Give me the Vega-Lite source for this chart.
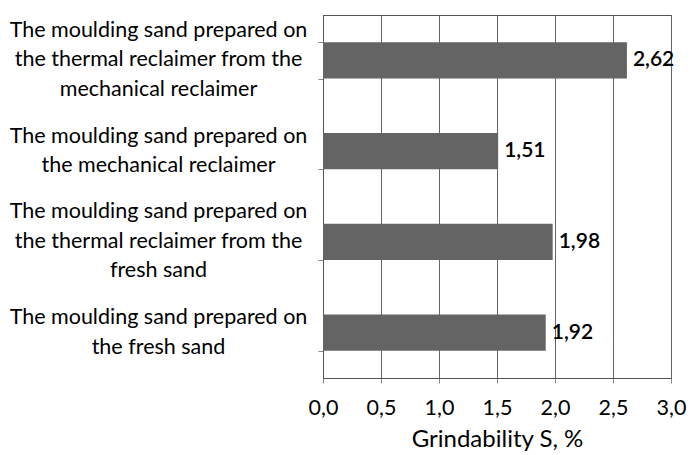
{
  "$schema": "https://vega.github.io/schema/vega-lite/v6.json",
  "autosize": "none",
  "width": 348,
  "height": 363,
  "padding": {"left": 323, "top": 15, "right": 27, "bottom": 77},
  "background": "white",
  "data": {
    "values": [
      {"category": "The moulding sand prepared on|the thermal reclaimer from the|mechanical reclaimer", "value": 2.62},
      {"category": "The moulding sand prepared on|the mechanical reclaimer", "value": 1.51},
      {"category": "The moulding sand prepared on|the thermal reclaimer from the|fresh sand", "value": 1.98},
      {"category": "The moulding sand prepared on|the fresh sand", "value": 1.92}
    ]
  },
  "encoding": {
    "y": {
      "field": "category",
      "type": "nominal",
      "sort": null,
      "scale": {"paddingInner": 0.6, "paddingOuter": 0.3},
      "axis": {
        "title": null,
        "tickBand": "extent",
        "labelExpr": "split(datum.label, '|')",
        "labelAlign": "center",
        "labelBaseline": "middle",
        "labelOffset": {"condition": {"test": "length(split(datum.label, '|')) == 3", "value": -30}, "value": -15},
        "labelPadding": 160,
        "labelLimit": 400,
        "labelFont": "Lato",
        "labelFontSize": 21.5,
        "labelColor": "#000000",
        "labelLineHeight": 29.5,
        "tickColor": "#888888",
        "tickSize": 5,
        "domainColor": "#555555",
        "grid": false
      }
    }
  },
  "layer": [
    {
      "mark": {"type": "bar", "color": "#646464"},
      "encoding": {
        "x": {
          "field": "value",
          "type": "quantitative",
          "scale": {"domain": [0, 3]},
          "axis": {
            "title": "Grindability S, %",
            "titleFont": "Lato",
            "titleFontSize": 24,
            "titleFontWeight": "normal",
            "titleColor": "#000000",
            "titlePadding": 9,
            "values": [0, 0.5, 1, 1.5, 2, 2.5, 3],
            "format": ".1f",
            "labelFlush": false,
            "labelOverlap": false,
            "labelFont": "Lato",
            "labelFontSize": 21.5,
            "labelColor": "#000000",
            "labelPadding": 14,
            "tickColor": "#888888",
            "tickSize": 5,
            "domainColor": "#555555",
            "grid": true,
            "gridColor": "#666666",
            "gridWidth": 1
          }
        }
      }
    },
    {
      "mark": {"type": "text", "align": "left", "baseline": "middle", "dx": 6, "font": "Lato", "fontSize": 21, "fontWeight": 600, "color": "#000000"},
      "encoding": {
        "x": {"field": "value", "type": "quantitative"},
        "text": {"field": "value", "type": "quantitative", "format": ".2f"}
      }
    }
  ],
  "config": {
    "locale": {"number": {"decimal": ",", "thousands": ".", "grouping": [3], "currency": ["", ""]}},
    "view": {"stroke": "#555555", "strokeWidth": 1}
  }
}
